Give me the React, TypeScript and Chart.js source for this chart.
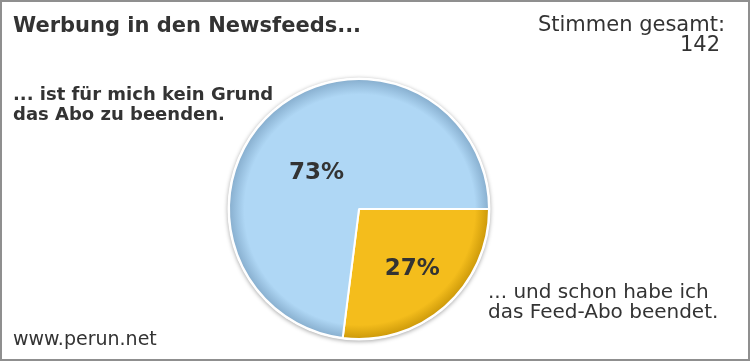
import React, { useEffect, useRef } from "react";
import { Chart, registerables } from "chart.js";

Chart.register(...registerables);

const chartTitle = "Werbung in den Newsfeeds...";
const categoryLines = [
  ["... und schon habe ich", "das Feed-Abo beendet."],
  ["... ist für mich kein Grund", "das Abo zu beenden."],
];
const shares = [27, 73];
const totalLabel = "Stimmen gesamt:";
const totalVotes = 142;
const sourceText = "www.perun.net";

const baseColors = ["#F4BD1C", "#AFD7F5"];
const edgeColors = ["#C99608", "#84ABCB"];
const labelRadius = [0.62, 0.43];
const labelAngleShift = [0, -8];

const FONT = '"DejaVu Sans", Verdana, sans-serif';

export default function App() {
  const ref = useRef<HTMLCanvasElement | null>(null);

  useEffect(() => {
    const canvas = ref.current;
    if (!canvas) return;

    const shadowPlugin = {
      id: "pieShadow",
      beforeDatasetsDraw(chart: any) {
        const arc = chart.getDatasetMeta(0).data[0];
        if (!arc) return;
        const ctx = chart.ctx;
        ctx.save();
        ctx.beginPath();
        ctx.arc(arc.x, arc.y, arc.outerRadius + 1.5, 0, Math.PI * 2);
        ctx.fillStyle = "#ffffff";
        ctx.shadowColor = "rgba(0,0,0,0.35)";
        ctx.shadowBlur = 4;
        ctx.shadowOffsetX = 0;
        ctx.shadowOffsetY = 1;
        ctx.fill();
        ctx.restore();
      },
    };

    const labelPlugin = {
      id: "pctLabels",
      afterDatasetsDraw(chart: any) {
        const ctx = chart.ctx;
        const meta = chart.getDatasetMeta(0);
        const total = shares.reduce((a, b) => a + b, 0);
        ctx.save();
        ctx.font = `bold 23px ${FONT}`;
        ctx.fillStyle = "#333333";
        ctx.textAlign = "center";
        ctx.textBaseline = "middle";
        meta.data.forEach((arc: any, i: number) => {
          const mid = (arc.startAngle + arc.endAngle) / 2 + (labelAngleShift[i] * Math.PI) / 180;
          const r = arc.outerRadius * labelRadius[i];
          const x = arc.x + Math.cos(mid) * r;
          const y = arc.y + Math.sin(mid) * r;
          ctx.fillText(Math.round((shares[i] / total) * 100) + "%", x, y);
        });
        ctx.restore();
      },
    };

    const chart = new Chart(canvas, {
      type: "pie",
      data: {
        labels: categoryLines.map((l) => l.join(" ")),
        datasets: [
          {
            data: shares,
            backgroundColor: (c: any) => {
              const ch = c.chart;
              const area = ch.chartArea;
              const i = c.dataIndex ?? 0;
              if (!area) return baseColors[i];
              const cx = (area.left + area.right) / 2;
              const cy = (area.top + area.bottom) / 2;
              const r = Math.min(area.right - area.left, area.bottom - area.top) / 2;
              const g = ch.ctx.createRadialGradient(cx + 6, cy + 6, 0, cx, cy, r);
              g.addColorStop(0, baseColors[i]);
              g.addColorStop(0.88, baseColors[i]);
              g.addColorStop(1, edgeColors[i]);
              return g;
            },
            borderColor: "#ffffff",
            borderWidth: 2,
            hoverOffset: 0,
          },
        ],
      },
      options: {
        responsive: false,
        animation: false,
        rotation: 90,
        layout: { padding: { left: 228, right: 260, top: 78, bottom: 21 } },
        plugins: {
          legend: { display: false },
          tooltip: { enabled: false },
          title: { display: false },
        },
        events: [],
      },
      plugins: [shadowPlugin, labelPlugin],
    });
    return () => chart.destroy();
  }, []);

  const text: React.CSSProperties = {
    position: "absolute",
    fontFamily: FONT,
    color: "#333333",
    whiteSpace: "nowrap",
    margin: 0,
  };

  return (
    <div
      style={{
        position: "absolute",
        left: 0,
        top: 0,
        width: 750,
        height: 361,
        background: "#ffffff",
        overflow: "hidden",
      }}
    >
      <canvas ref={ref} width={750} height={361} style={{ position: "absolute", left: 0, top: 0, width: 750, height: 361 }} />
      <div style={{ ...text, left: 13, top: 12, fontSize: 21, fontWeight: "bold", lineHeight: "26px" }}>{chartTitle}</div>
      <div style={{ ...text, right: 25, top: 14, fontSize: 21, lineHeight: "20px", textAlign: "right" }}>
        {totalLabel}
        <br />
        <span style={{ marginRight: 5 }}>{totalVotes}</span>
      </div>
      <div style={{ ...text, left: 13, top: 84, fontSize: 18, fontWeight: "bold", lineHeight: "20px" }}>
        {categoryLines[1][0]}
        <br />
        {categoryLines[1][1]}
      </div>
      <div style={{ ...text, left: 488, top: 281, fontSize: 20, lineHeight: "20px" }}>
        {categoryLines[0][0]}
        <br />
        {categoryLines[0][1]}
      </div>
      <div style={{ ...text, left: 13, top: 328, fontSize: 19, lineHeight: "20px" }}>{sourceText}</div>
      <div
        style={{
          position: "absolute",
          left: 0,
          top: 0,
          width: 750,
          height: 361,
          boxSizing: "border-box",
          border: "2px solid #8f8f8f",
          pointerEvents: "none",
        }}
      />
    </div>
  );
}
